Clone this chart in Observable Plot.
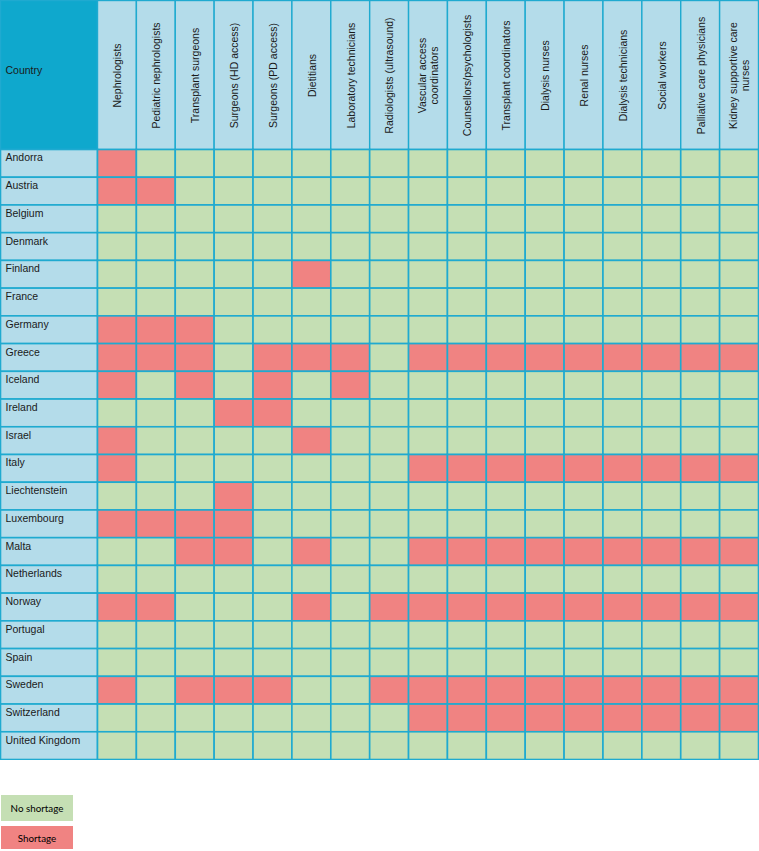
<!DOCTYPE html>
<html><head><meta charset="utf-8">
<script src="https://cdn.jsdelivr.net/npm/d3@7"></script>
<script src="https://cdn.jsdelivr.net/npm/@observablehq/plot@0.6"></script>
<style>
body{margin:0;background:#fff;font-family:"Liberation Sans",Arial,sans-serif;}
#legend{position:relative;height:91px;width:759px;}
.lg{position:absolute;left:1px;width:72px;font-family:Lato,"Open Sans",sans-serif;font-size:9.8px;color:#000;display:flex;align-items:center;justify-content:center;}
</style></head><body><div id="chart"></div><div id="legend"></div>
<script>
const countries = ["Andorra","Austria","Belgium","Denmark","Finland","France","Germany","Greece","Iceland","Ireland","Israel","Italy","Liechtenstein","Luxembourg","Malta","Netherlands","Norway","Portugal","Spain","Sweden","Switzerland","United Kingdom"];
const professions = ["Nephrologists","Pediatric nephrologists","Transplant surgeons","Surgeons (HD access)","Surgeons (PD access)","Dietitians","Laboratory technicians","Radiologists (ultrasound)","Vascular access\ncoordinators","Counsellors/psychologists","Transplant coordinators","Dialysis nurses","Renal nurses","Dialysis technicians","Social workers","Palliative care physicians","Kidney supportive care\nnurses"];
const statusLabels = ["No shortage","Shortage"];
// 1 = shortage, 0 = no shortage; one row per country, one value per profession
const shortage = [
  [1,0,0,0,0,0,0,0,0,0,0,0,0,0,0,0,0],
  [1,1,0,0,0,0,0,0,0,0,0,0,0,0,0,0,0],
  [0,0,0,0,0,0,0,0,0,0,0,0,0,0,0,0,0],
  [0,0,0,0,0,0,0,0,0,0,0,0,0,0,0,0,0],
  [0,0,0,0,0,1,0,0,0,0,0,0,0,0,0,0,0],
  [0,0,0,0,0,0,0,0,0,0,0,0,0,0,0,0,0],
  [1,1,1,0,0,0,0,0,0,0,0,0,0,0,0,0,0],
  [1,1,1,0,1,1,1,0,1,1,1,1,1,1,1,1,1],
  [1,0,1,0,1,0,1,0,0,0,0,0,0,0,0,0,0],
  [0,0,0,1,1,0,0,0,0,0,0,0,0,0,0,0,0],
  [1,0,0,0,0,1,0,0,0,0,0,0,0,0,0,0,0],
  [1,0,0,0,0,0,0,0,1,1,1,1,1,1,1,1,1],
  [0,0,0,1,0,0,0,0,0,0,0,0,0,0,0,0,0],
  [1,1,1,1,0,0,0,0,0,0,0,0,0,0,0,0,0],
  [0,0,1,1,0,1,0,0,1,1,1,1,1,1,1,1,1],
  [0,0,0,0,0,0,0,0,0,0,0,0,0,0,0,0,0],
  [1,1,0,0,0,1,0,1,1,1,1,1,1,1,1,1,1],
  [0,0,0,0,0,0,0,0,0,0,0,0,0,0,0,0,0],
  [0,0,0,0,0,0,0,0,0,0,0,0,0,0,0,0,0],
  [1,0,1,1,1,0,0,1,1,1,1,1,1,1,1,1,1],
  [0,0,0,0,0,0,0,0,1,1,1,1,1,1,1,1,1],
  [0,0,0,0,0,0,0,0,0,0,0,0,0,0,0,0,0]
];

const green = "#c5dfb4", red = "#f08382", headBlue = "#b4dcea", darkBlue = "#0fa8cd", border = "#1faad0";
const W = 759, H = 760;
const colPx = (758 - 97) / professions.length;
const rowPx = (759 - 149) / countries.length;
const xLeft = -97 / colPx;
const yTop = -149 / rowPx;

const cells = countries.flatMap((c, j) => professions.map((p, i) => ({
  country: c, profession: p, row: j, col: i, status: statusLabels[shortage[j][i]]
})));

const chart = Plot.plot({
  width: W, height: H,
  margin: 0,
  style: {fontFamily: "'Liberation Sans', Arial, sans-serif", background: "#fff"},
  x: {domain: [xLeft, professions.length], range: [0.5, 758.5], axis: null},
  y: {domain: [yTop, countries.length], range: [0.5, 759.5], axis: null},
  color: {domain: statusLabels, range: [green, red]},
  marks: [
    Plot.rect([0], {x1: xLeft, x2: 0, y1: yTop, y2: 0, fill: darkBlue, stroke: border, strokeWidth: 1.4}),
    Plot.rect(professions, {x1: (d, i) => i, x2: (d, i) => i + 1, y1: yTop, y2: 0, fill: headBlue, stroke: border, strokeWidth: 1.4}),
    Plot.rect(countries, {x1: xLeft, x2: 0, y1: (d, i) => i, y2: (d, i) => i + 1, fill: headBlue, stroke: border, strokeWidth: 1.6}),
    Plot.rect(cells, {x1: "col", x2: d => d.col + 1, y1: "row", y2: d => d.row + 1, fill: "status", stroke: border, strokeWidth: 1.6}),
    Plot.text(["Country"], {x: xLeft, y: yTop / 2, text: d => d, dx: 4.5, dy: -4.5, textAnchor: "start", fontSize: 10.5, fill: "#1a1a1a"}),
    Plot.text(professions, {x: (d, i) => i + 0.5, y: yTop / 2, text: d => d, rotate: -90, textAnchor: "middle", lineAnchor: "middle", lineHeight: 1.15, fontSize: 10.5, fill: "#1a1a1a"}),
    Plot.text(countries, {x: xLeft, y: (d, i) => i, text: d => d, dx: 4.5, dy: 4, textAnchor: "start", lineAnchor: "top", fontSize: 10.5, fill: "#1a1a1a"})
  ]
});
document.getElementById("chart").appendChild(chart);

const legend = document.getElementById("legend");
const boxes = [{top: 35, h: 26}, {top: 66, h: 23}];
statusLabels.forEach((s, k) => {
  const d = document.createElement("div");
  d.className = "lg";
  d.style.top = boxes[k].top + "px";
  d.style.height = boxes[k].h + "px";
  d.style.background = k ? red : green;
  d.textContent = s;
  legend.appendChild(d);
});
</script></body></html>
